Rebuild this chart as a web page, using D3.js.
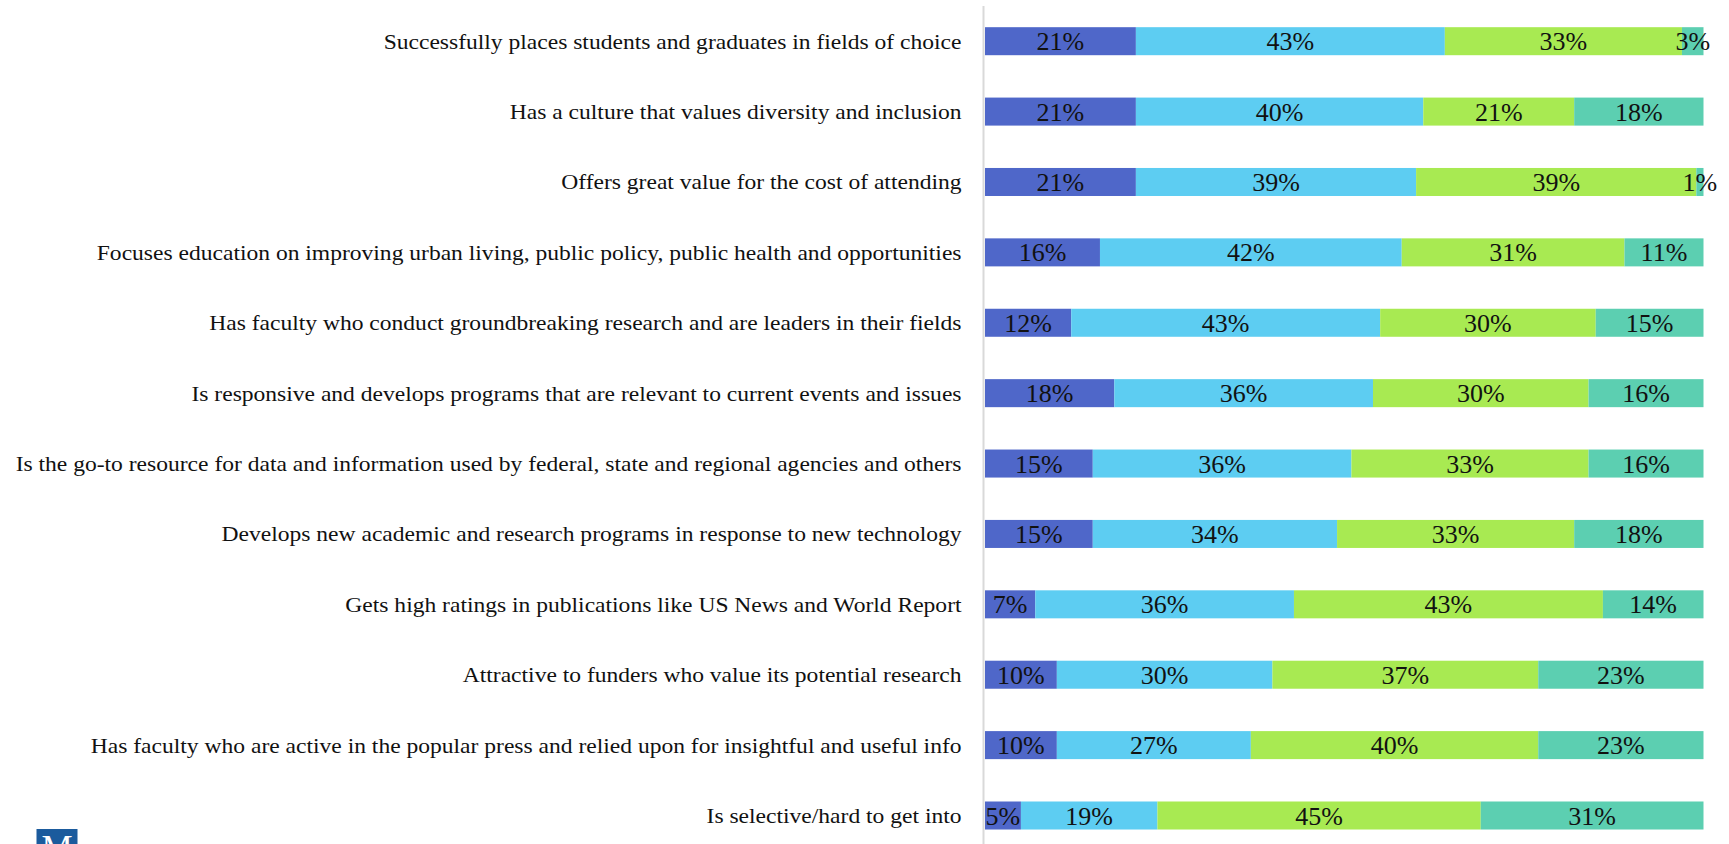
<!DOCTYPE html>
<html>
<head>
<meta charset="utf-8">
<script src="https://cdn.jsdelivr.net/npm/d3@7"></script>
<style>
  html, body { margin: 0; padding: 0; background: #ffffff; overflow: hidden; }
  svg { display: block; }
</style>
</head>
<body>
<svg id="chart" width="1729" height="844"></svg>
<script>
// Survey statements, top to bottom
const statements = [
  "Successfully places students and graduates in fields of choice",
  "Has a culture that values diversity and inclusion",
  "Offers great value for the cost of attending",
  "Focuses education on improving urban living, public policy, public health and opportunities",
  "Has faculty who conduct groundbreaking research and are leaders in their fields",
  "Is responsive and develops programs that are relevant to current events and issues",
  "Is the go-to resource for data and information used by federal, state and regional agencies and others",
  "Develops new academic and research programs in response to new technology",
  "Gets high ratings in publications like US News and World Report",
  "Attractive to funders who value its potential research",
  "Has faculty who are active in the popular press and relied upon for insightful and useful info",
  "Is selective/hard to get into"
];

// Response shares (%) for each of the four answer groups
const series1 = [21, 21, 21, 16, 12, 18, 15, 15, 7, 10, 10, 5];
const series2 = [43, 40, 39, 42, 43, 36, 36, 34, 36, 30, 27, 19];
const series3 = [33, 21, 39, 31, 30, 30, 33, 33, 43, 37, 40, 45];
const series4 = [3, 18, 1, 11, 15, 16, 16, 18, 14, 23, 23, 31];

const seriesKeys = ["s1", "s2", "s3", "s4"];
const seriesColors = ["#4f67c9", "#5dcdf2", "#a8ea52", "#5ccfb1"];

const rows = statements.map((name, i) => ({
  name,
  s1: series1[i], s2: series2[i], s3: series3[i], s4: series4[i]
}));

const svg = d3.select("#chart");

const x = d3.scaleLinear().domain([0, 100]).range([985, 1703.5]);
const y = d3.scaleBand()
  .domain(statements)
  .range([6, 850.7])
  .paddingInner(0.602)
  .paddingOuter(0.301);

const stacked = d3.stack().keys(seriesKeys)(rows);
const color = d3.scaleOrdinal().domain(seriesKeys).range(seriesColors);

const serif = "'Palatino Linotype', 'Book Antiqua', Palatino, 'Liberation Serif', serif";

// Widen the narrower fallback serif slightly so texts keep a book-face width
function widen(sel, factor) {
  sel.each(function () {
    const len = this.getComputedTextLength();
    d3.select(this)
      .attr("textLength", len * factor)
      .attr("lengthAdjust", "spacingAndGlyphs");
  });
}

// Stacked bar segments
const layers = svg.append("g").selectAll("g")
  .data(stacked)
  .join("g")
  .attr("fill", d => color(d.key));

layers.selectAll("rect")
  .data(d => d)
  .join("rect")
  .attr("x", d => x(d[0]))
  .attr("y", d => y(d.data.name))
  .attr("width", d => x(d[1]) - x(d[0]))
  .attr("height", y.bandwidth());

// Value labels centred in each segment
const labelLayers = svg.append("g").selectAll("g")
  .data(stacked)
  .join("g");

labelLayers.selectAll("text")
  .data(d => d.map(v => ({ v, key: d.key })))
  .join("text")
  .attr("x", d => (x(d.v[0]) + x(d.v[1])) / 2)
  .attr("y", d => y(d.v.data.name) + y.bandwidth() / 2)
  .attr("dy", "0.36em")
  .attr("text-anchor", "middle")
  .attr("font-family", serif)
  .attr("font-size", 25)
  .attr("fill", "#111")
  .text(d => `${d.v[1] - d.v[0]}%`)
  .call(widen, 1.04);

// Category axis: light vertical rule with right-aligned statements
const axis = d3.axisLeft(y).tickSize(0).tickPadding(22);
const axisG = svg.append("g")
  .attr("transform", `translate(${x(0) - 1.5},0)`)
  .call(axis);
axisG.select(".domain").remove();
axisG.selectAll("text")
  .attr("font-family", serif)
  .attr("font-size", 22)
  .attr("fill", "#111")
  .attr("dy", "0.34em")
  .call(widen, 1.07);

svg.append("line")
  .attr("x1", x(0) - 1.5).attr("x2", x(0) - 1.5)
  .attr("y1", 6).attr("y2", 844)
  .attr("stroke", "#d9d9d9")
  .attr("stroke-width", 2);

// Small brand mark at the lower left
const logo = svg.append("g").attr("transform", "translate(36.5,829)");
logo.append("rect").attr("width", 41).attr("height", 20).attr("fill", "#1b5b9d");
logo.append("text")
  .attr("x", 20.5).attr("y", 31)
  .attr("text-anchor", "middle")
  .attr("font-family", serif)
  .attr("font-size", 35)
  .attr("fill", "#ffffff")
  .text("M");
</script>
</body>
</html>
